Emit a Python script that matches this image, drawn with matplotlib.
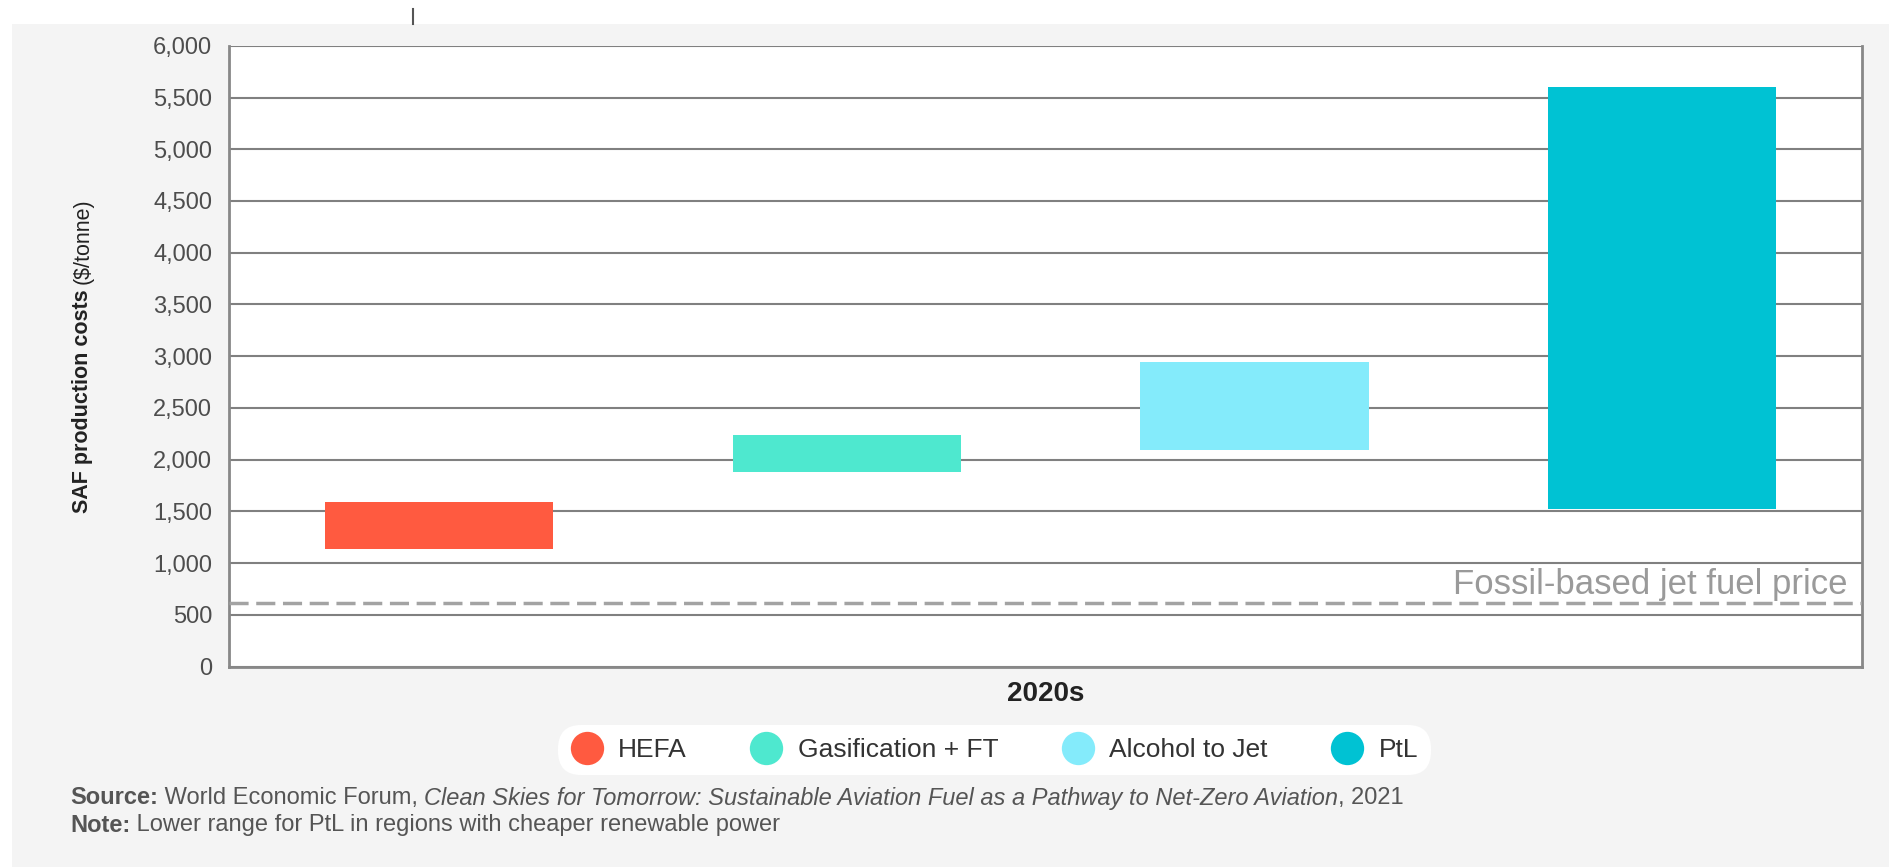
import matplotlib
matplotlib.use("Agg")
import matplotlib.pyplot as plt
from matplotlib.lines import Line2D
from matplotlib.patches import Rectangle
from matplotlib.ticker import FuncFormatter, MultipleLocator

plt.rcParams['font.family'] = ['Liberation Sans', 'DejaVu Sans']

# SAF production cost ranges, $/tonne
pathways = ["HEFA", "Gasification + FT", "Alcohol to Jet", "PtL"]
cost_low = [1140, 1880, 2090, 1520]
cost_high = [1590, 2240, 2940, 5600]
colors = ["#FF5A40", "#4EE8CF", "#84EBFB", "#00C2D3"]
fossil_price = 610
period = "2020s"

W, H = 1890, 867
fig = plt.figure(figsize=(W / 100, H / 100), dpi=100, facecolor="white")


def fx(px):
    return px / W


def fy(py):
    return 1 - py / H


# grey panel behind everything
fig.add_artist(Rectangle((fx(12), 0), 1 - fx(12), fy(24), transform=fig.transFigure,
                         facecolor="#F4F4F4", edgecolor="none", zorder=0))
fig.add_artist(Line2D([fx(413), fx(413)], [fy(9), fy(24)], transform=fig.transFigure,
                      color="#555555", lw=1.5))

ax = fig.add_axes([fx(229), fy(666.6), fx(1862) - fx(229), fy(45.8) - fy(666.6)])
ax.set_facecolor("white")

xpos = list(range(len(pathways)))
heights = [h - l for l, h in zip(cost_low, cost_high)]
ax.bar(xpos, heights, bottom=cost_low, width=0.56, color=colors, zorder=3)

ax.axhline(fossil_price, color="#a3a3a3", lw=2.5, dashes=(5.5, 2.2), zorder=4)
ax.text(0.991, 790, "Fossil-based jet fuel price", transform=ax.get_yaxis_transform(),
        ha="right", va="center", fontsize=25, color="#9a9a9a", zorder=5)

ax.set_xlim(-0.516, 3.49)
ax.set_ylim(0, 6000)
ax.yaxis.set_major_locator(MultipleLocator(500))
ax.yaxis.set_major_formatter(FuncFormatter(lambda v, p: f"{int(v):,}"))
ax.set_xticks([])
ax.tick_params(axis="y", length=0, pad=12, labelsize=17, labelcolor="#4d4d4d")
ax.yaxis.grid(True, color="#808080", lw=1.5, zorder=1)
ax.set_axisbelow(True)
ax.spines["top"].set_visible(False)
for s in ("left", "right", "bottom"):
    ax.spines[s].set_color("#888888")
    ax.spines[s].set_linewidth(2)

fig.text(fx(1045.5), fy(694), period, ha="center", va="center",
         fontsize=20, fontweight="bold", color="#222222")

renderer = fig.canvas.get_renderer()

# y label: bold part then regular unit
t = fig.text(fx(83), fy(513), "SAF production costs", rotation=90, ha="center", va="bottom",
             fontsize=15.5, fontweight="bold", color="#222222")
bb = t.get_window_extent(renderer)
fig.text(fx(83), (bb.y1 + 5) / H, "($/tonne)", rotation=90, ha="center", va="bottom",
         fontsize=15.5, color="#222222")

# legend
handles = [Line2D([], [], marker="o", ls="none", markersize=24, markerfacecolor=c,
                  markeredgecolor="none") for c in colors]
leg = fig.legend(handles, pathways, loc="center", bbox_to_anchor=(fx(994.5), fy(750)),
                 ncol=4, fontsize=19, frameon=True, facecolor="white", edgecolor="none",
                 framealpha=1, handletextpad=0.6, columnspacing=2.4, borderpad=0.5,
                 handlelength=1.2)
leg.get_frame().set_boxstyle("round,pad=0,rounding_size=0.9")
for txt in leg.get_texts():
    txt.set_color("#333333")


def chain(parts, x0, y0, size=17):
    x = x0
    for s, weight, style in parts:
        tt = fig.text(x / W, fy(y0), s, ha="left", va="center", fontsize=size,
                      fontweight=weight, fontstyle=style, color="#555555")
        x = tt.get_window_extent(renderer).x1


chain([("Source:", "bold", "normal"),
       (" World Economic Forum, ", "normal", "normal"),
       ("Clean Skies for Tomorrow: Sustainable Aviation Fuel as a Pathway to Net-Zero Aviation",
        "normal", "italic"),
       (", 2021", "normal", "normal")], 70, 798)
chain([("Note:", "bold", "normal"),
       (" Lower range for PtL in regions with cheaper renewable power", "normal", "normal")],
      70, 825)

fig.savefig("out.png", dpi=100, facecolor=fig.get_facecolor())
